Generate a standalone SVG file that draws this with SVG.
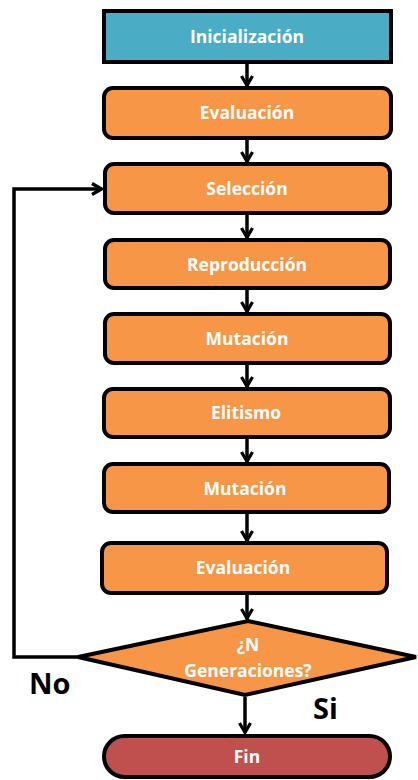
<svg xmlns="http://www.w3.org/2000/svg" width="418" height="780" viewBox="0 0 418 780">
  <defs>
    <style>
      .box { stroke: #000; stroke-width: 4; }
      .step { fill: #F79646; }
      .start { fill: #4BACC6; }
      .end { fill: #C0504D; }
      .lbl { font-family: "Open Sans", "Liberation Sans", sans-serif; font-weight: bold; font-size: 17.5px; fill: #fff; text-anchor: middle; }
      .tag { font-family: "Open Sans", "Liberation Sans", sans-serif; font-weight: bold; font-size: 29px; fill: #000; }
      .wire { fill: none; stroke: #000; stroke-width: 3.5; }
    </style>
    <marker id="chev" viewBox="0 0 14 14" refX="12" refY="7" markerWidth="14" markerHeight="14" markerUnits="userSpaceOnUse" orient="auto">
      <path d="M2,1.5 L11.5,7 L2,12.5" fill="none" stroke="#000" stroke-width="3.2"/>
    </marker>
  </defs>
  <rect width="418" height="780" fill="#fff"/>

  <g id="connectors">
    <line class="wire" x1="247" y1="64" x2="247" y2="86" marker-end="url(#chev)"/>
    <line class="wire" x1="247" y1="140" x2="247" y2="162" marker-end="url(#chev)"/>
    <line class="wire" x1="247" y1="215" x2="247" y2="238" marker-end="url(#chev)"/>
    <line class="wire" x1="247" y1="290" x2="247" y2="312" marker-end="url(#chev)"/>
    <line class="wire" x1="247" y1="365" x2="247" y2="387" marker-end="url(#chev)"/>
    <line class="wire" x1="247" y1="439" x2="247" y2="462" marker-end="url(#chev)"/>
    <line class="wire" x1="247" y1="514" x2="247" y2="541" marker-end="url(#chev)"/>
    <line class="wire" x1="247" y1="595" x2="247" y2="619" marker-end="url(#chev)"/>
    <line class="wire" x1="245" y1="697" x2="245" y2="733" marker-end="url(#chev)"/>
    <polyline class="wire" points="78,657 14,657 14,189 102,189" marker-end="url(#chev)"/>
  </g>

  <g id="n-init">
    <rect class="box start" x="104" y="11" width="287" height="51"/>
    <text class="lbl" x="247" y="43">Inicialización</text>
  </g>
  <g id="n-eval1">
    <rect class="box step" x="104" y="88" width="287" height="50" rx="9"/>
    <text class="lbl" x="247" y="119">Evaluación</text>
  </g>
  <g id="n-sel">
    <rect class="box step" x="105" y="164" width="285" height="49" rx="9"/>
    <text class="lbl" x="247" y="195">Selección</text>
  </g>
  <g id="n-rep">
    <rect class="box step" x="105" y="240" width="285" height="48" rx="9"/>
    <text class="lbl" x="247" y="271">Reproducción</text>
  </g>
  <g id="n-mut1">
    <rect class="box step" x="105" y="314" width="285" height="49" rx="9"/>
    <text class="lbl" x="247" y="345">Mutación</text>
  </g>
  <g id="n-elit">
    <rect class="box step" x="104" y="389" width="286" height="48" rx="9"/>
    <text class="lbl" x="246" y="419">Elitismo</text>
  </g>
  <g id="n-mut2">
    <rect class="box step" x="104" y="464" width="285" height="48" rx="9"/>
    <text class="lbl" x="245" y="495">Mutación</text>
  </g>
  <g id="n-eval2">
    <rect class="box step" x="102" y="543" width="285" height="50" rx="9"/>
    <text class="lbl" x="243" y="574">Evaluación</text>
  </g>
  <g id="n-decision">
    <polygon class="box step" points="248,621 416,657 245,695 78,657"/>
    <text class="lbl" x="248" y="651">¿N</text>
    <text class="lbl" x="248" y="677">Generaciones?</text>
  </g>
  <g id="n-fin">
    <rect class="box end" x="104" y="736" width="286" height="41" rx="20.5"/>
    <text class="lbl" x="247" y="763">Fin</text>
  </g>

  <text class="tag" x="29" y="694">No</text>
  <text class="tag" x="313" y="719">Si</text>
</svg>
